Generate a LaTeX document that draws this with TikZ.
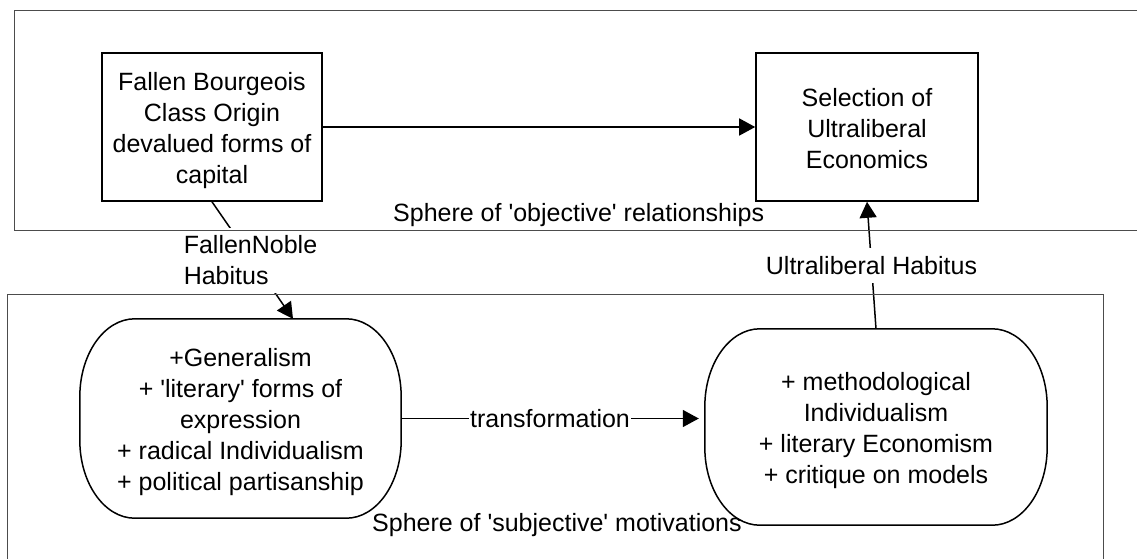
\documentclass[tikz,border=0pt]{standalone}
\usepackage{fontspec}
\setmainfont{Liberation Sans}
\usetikzlibrary{arrows.meta,calc}
\newcommand{\sglq}{\textquotesingle}
% outline with flat top/bottom and elliptic corners, drawn round a named node
\newcommand{\termshape}[1]{%
  \draw[shapeline] ([xshift=55pt]#1.north west) -- ([xshift=-55pt]#1.north east)
    arc[start angle=90,end angle=0,x radius=55pt,y radius=78pt]
    -- ([yshift=78pt]#1.south east)
    arc[start angle=0,end angle=-90,x radius=55pt,y radius=78pt]
    -- ([xshift=55pt]#1.south west)
    arc[start angle=270,end angle=180,x radius=55pt,y radius=78pt]
    -- ([yshift=-78pt]#1.north west)
    arc[start angle=180,end angle=90,x radius=55pt,y radius=78pt] -- cycle;}
\begin{document}
\begin{tikzpicture}[x=1pt,y=-1pt,
  txtfont/.style={font=\fontsize{25}{31}\selectfont},
  txt/.style={txtfont,align=center,inner sep=0pt},
  box/.style={draw,line width=1.6pt,inner sep=0pt},
  shapeline/.style={line width=1.5pt},
  frame/.style={draw=black!70,line width=1pt},
  conn/.style={line width=1.5pt,-{Triangle[length=16pt,width=17pt]}},
  lbl/.style={txtfont,fill=white,inner xsep=1pt,inner ysep=0pt}]
  \fill[white] (0,0) rectangle (1137,558);
  \useasboundingbox (0,0) rectangle (1137,558);
  \clip (0,0) rectangle (1137,558);

  % upper sphere: boxes
  \node[box,minimum width=220pt,minimum height=148pt] (b1) at (212,127) {};
  \node[txt] (b1t) at ([yshift=-3.5pt]b1.center)
    {Fallen Bourgeois\\Class Origin\\devalued forms of\\capital};
  \node[box,minimum width=222pt,minimum height=148pt] (b2) at (867,127) {};
  \node[txt] (b2t) at ([yshift=-1.5pt]b2.center)
    {Selection of\\Ultraliberal\\Economics};

  % lower sphere: rounded dispositions
  \node[minimum width=321pt,minimum height=199pt,inner sep=0pt] (r1) at (240.5,418.5) {};
  \termshape{r1}
  \node[txt] (r1t) at ([yshift=-4pt]r1.center)
    {+Generalism\\+ \sglq literary\sglq{} forms of\\expression\\+ radical Individualism\\+ political partisanship};
  \node[minimum width=342pt,minimum height=196pt,inner sep=0pt] (r2) at (876,427) {};
  \termshape{r2}
  \node[txt] (r2t) at ([yshift=-4pt]r2.center)
    {+ methodological\\Individualism\\+ literary Economism\\+ critique on models};

  % connectors
  \draw[conn] (b1.east) -- (b2.west);
  \draw[conn,shorten >=6pt] (r1.east) -- (r1.east -| r2.west)
    node[lbl,midway,xshift=-3pt] (tr) {transformation};
  \draw[conn] (b1.south) -- ([xshift=52.5pt]r1.north)
    node[lbl,midway,align=left,minimum height=65pt,xshift=-2pt] (fn) {FallenNoble\\Habitus};
  \draw[conn] (r2.north) -- (b2.south)
    node[lbl,midway,minimum height=35pt] (uh) {Ultraliberal Habitus};

  % sphere frames and their captions
  \draw[frame] (14,10) rectangle (1170,230);
  \draw[frame] (7,294) rectangle (1103,580);
  \node[txtfont,anchor=base west,inner sep=0pt] (so) at (393,221)
    {Sphere of \sglq objective\sglq{} relationships};
  \node[txtfont,anchor=base west,inner sep=0pt] (ss) at (372,531)
    {Sphere of \sglq subjective\sglq{} motivations};
\end{tikzpicture}
\end{document}
